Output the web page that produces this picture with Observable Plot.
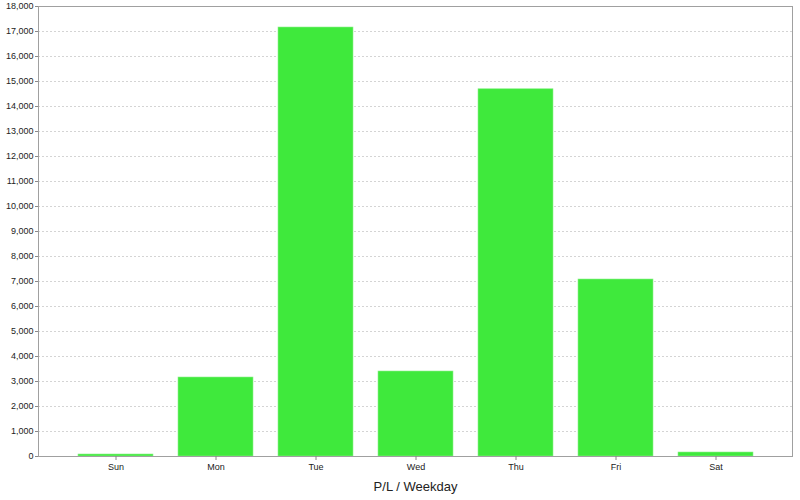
<!DOCTYPE html>
<html>
<head>
<meta charset="utf-8">
<script src="https://cdn.jsdelivr.net/npm/d3@7"></script>
<script src="https://cdn.jsdelivr.net/npm/@observablehq/plot@0.6"></script>
<style>
  html, body { margin: 0; padding: 0; background: #fff; }
  #chart svg { display: block; }
</style>
</head>
<body>
<div id="chart"></div>
<script>
const days = ["Sun", "Mon", "Tue", "Wed", "Thu", "Fri", "Sat"];
const values = [80, 3160, 17160, 3400, 14690, 7080, 160];
const yTicks = [0, 1000, 2000, 3000, 4000, 5000, 6000, 7000, 8000, 9000, 10000,
  11000, 12000, 13000, 14000, 15000, 16000, 17000, 18000];
const xLabel = "P/L / Weekday";

const data = days.map((d, i) => ({day: d, value: values[i]}));
const fmt = d3.format(",");

const chart = Plot.plot({
  width: 800,
  height: 500,
  marginTop: 6,
  marginLeft: 38,
  marginRight: 8,
  marginBottom: 44,
  style: {fontFamily: "'Liberation Sans', Arial, sans-serif", fontSize: "9px", color: "#333", background: "#fff"},
  x: {domain: days, paddingInner: 0.25, paddingOuter: 0.376},
  y: {domain: [0, 18000]},
  marks: [
    Plot.gridY(yTicks.filter(t => t > 0), {stroke: "#d4d4d4", strokeOpacity: 1, strokeDasharray: "2,2"}),
    Plot.barY(data, {x: "day", y: "value", fill: "#3fe93c", stroke: "#8ef08b", strokeWidth: 0.6}),
    Plot.frame({stroke: "#a0a0a0"}),
    Plot.axisY({ticks: yTicks, tickFormat: fmt, tickSize: 3, tickPadding: 2, label: null, stroke: "#888", fill: "#222"}),
    Plot.axisX({tickSize: 4, tickPadding: 3, label: xLabel, labelAnchor: "center", labelOffset: 34, stroke: "#888", fill: "#222"})
  ]
});
document.getElementById("chart").appendChild(chart);
const lbl = chart.querySelectorAll("[aria-label='x-axis label'] text");
lbl.forEach(t => { t.style.fontSize = "13px"; t.setAttribute("fill", "#222"); });
</script>
</body>
</html>
